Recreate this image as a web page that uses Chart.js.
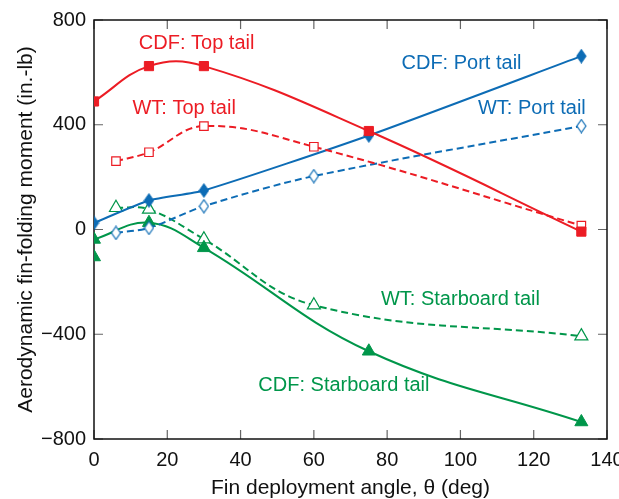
<!DOCTYPE html>
<html>
<head>
<meta charset="utf-8">
<script src="https://cdn.jsdelivr.net/npm/chart.js@4"></script>
<style>
  html, body { margin: 0; padding: 0; background: #fff; }
</style>
</head>
<body>
<canvas id="finChart" width="619" height="499"></canvas>
<script>
    // fin deployment angle (deg)
    let angleCdf = [0, 15, 30, 75, 133];
    let angleWt = [6, 15, 30, 60, 133];
    let xTicks = [0, 20, 40, 60, 80, 100, 120, 140];
    let yTicks = [-800, -400, 0, 400, 800];

    // fin-folding moment (in.-lb)
    let cdfTop = [489, 624, 624, 376, -8];
    let wtTop = [261, 295, 395, 316, 15];
    let cdfPort = [25, 111, 149, 359, 662];
    let wtPort = [-13, 6, 89, 204, 395];
    let cdfStar = [-38, 26, -70, -465, -735];
    let wtStar = [83, 77, -37, -289, -407];
    let cdfStarExtraX = [0];
    let cdfStarExtra = [-105];

    let red = "#ec1c24", blue = "#0d6cb5", green = "#00964a";
    let font = "'Liberation Sans', Arial, Helvetica, sans-serif";

    function diamond(fill, stroke) {
        let c = document.createElement("canvas");
        c.width = 11; c.height = 15;
        let g = c.getContext("2d");
        g.beginPath();
        g.moveTo(5.5, 1); g.lineTo(10, 7.5); g.lineTo(5.5, 14); g.lineTo(1, 7.5); g.closePath();
        g.fillStyle = fill; g.fill();
        g.lineWidth = 1.2; g.strokeStyle = stroke; g.stroke();
        return c;
    }

    let pts = (xs, ys) => xs.map((x, i) => ({ x, y: ys[i] }));

    function series(label, xs, ys, color, solid, style, size, tension) {
        return {
            label,
            data: pts(xs, ys),
            borderColor: color,
            borderWidth: 2,
            borderDash: solid ? [] : [7, 4],
            tension: tension,
            fill: false,
            pointStyle: style,
            pointRadius: size,
            pointBorderWidth: solid ? 1 : 1.2,
            pointBackgroundColor: solid ? color : "#fff",
            pointBorderColor: color
        };
    }

    // text labels placed in data units
    let notes = [
        { text: "CDF: Top tail", x: 28, y: 712, color: red },
        { text: "WT: Top tail", x: 24.6, y: 462, color: red },
        { text: "CDF: Port tail", x: 100.3, y: 635, color: blue },
        { text: "WT: Port tail", x: 119.5, y: 462, color: blue },
        { text: "WT: Starboard tail", x: 100, y: -268, color: green },
        { text: "CDF: Starboard tail", x: 68.2, y: -596, color: green }
    ];

    let frame = {
        id: "frame",
        beforeDatasetsDraw(chart) {
            let { ctx, chartArea: a, scales: { x, y } } = chart;
            ctx.save();
            ctx.strokeStyle = "#666";
            ctx.lineWidth = 1.2;
            ctx.beginPath();
            xTicks.forEach(v => {
                let px = x.getPixelForValue(v);
                ctx.moveTo(px, a.bottom); ctx.lineTo(px, a.bottom - 9);
                ctx.moveTo(px, a.top); ctx.lineTo(px, a.top + 9);
            });
            yTicks.forEach(v => {
                let py = y.getPixelForValue(v);
                ctx.moveTo(a.left, py); ctx.lineTo(a.left + 9, py);
                ctx.moveTo(a.right, py); ctx.lineTo(a.right - 9, py);
            });
            ctx.stroke();
            ctx.strokeStyle = "#111";
            ctx.lineWidth = 1.5;
            ctx.strokeRect(a.left, a.top, a.width, a.height);
            ctx.restore();
        },
        afterDatasetsDraw(chart) {
            let { ctx, scales: { x, y } } = chart;
            ctx.save();
            ctx.font = "20px " + font;
            ctx.textAlign = "center";
            ctx.textBaseline = "middle";
            notes.forEach(n => {
                ctx.fillStyle = n.color;
                ctx.fillText(n.text, x.getPixelForValue(n.x), y.getPixelForValue(n.y));
            });
            ctx.restore();
        }
    };

    new Chart(document.getElementById("finChart"), {
        type: "line",
        data: {
            datasets: [
                series("CDF: Top tail", angleCdf, cdfTop, red, true, "rect", 6.5, 0.4),
                series("WT: Top tail", angleWt, wtTop, red, false, "rect", 6, 0.4),
                series("CDF: Port tail", angleCdf, cdfPort, blue, true, diamond(blue, blue), 6, 0.2),
                series("WT: Port tail", angleWt, wtPort, blue, false, diamond("#fff", blue), 6, 0.3),
                series("CDF: Starboard tail", angleCdf, cdfStar, green, true, "triangle", 7.5, 0.4),
                series("WT: Starboard tail", angleWt, wtStar, green, false, "triangle", 7.5, 0.4),
                Object.assign(series("CDF: Starboard tail (extra)", cdfStarExtraX, cdfStarExtra, green, true, "triangle", 7.5, 0), { showLine: false })
            ]
        },
        options: {
            responsive: false,
            animation: false,
            devicePixelRatio: 1,
            layout: { padding: { top: 20, right: 12, left: 0, bottom: 0 } },
            plugins: { legend: { display: false }, tooltip: { enabled: false } },
            scales: {
                x: {
                    type: "linear",
                    min: 0,
                    max: 140,
                    afterBuildTicks: s => { s.ticks = xTicks.map(value => ({ value })); },
                    afterFit: s => { s.height = 60; s.paddingLeft = 0; s.paddingRight = 0; },
                    grid: { display: false, drawTicks: false },
                    border: { display: false },
                    ticks: { color: "#111", padding: 9, maxRotation: 0, font: { family: font, size: 20 } },
                    title: {
                        display: true,
                        text: "Fin deployment angle, \u03b8 (deg)",
                        color: "#111",
                        padding: { top: 0, bottom: 0 },
                        font: { family: font, size: 21, lineHeight: 1 }
                    }
                },
                y: {
                    min: -800,
                    max: 800,
                    afterBuildTicks: s => { s.ticks = yTicks.map(value => ({ value })); },
                    afterFit: s => { s.width = 94; s.paddingTop = 0; s.paddingBottom = 0; },
                    grid: { display: false, drawTicks: false },
                    border: { display: false },
                    ticks: {
                        color: "#111",
                        padding: 8,
                        font: { family: font, size: 20 },
                        callback: v => v < 0 ? "\u2212" + Math.abs(v) : String(v)
                    },
                    title: {
                        display: true,
                        text: "Aerodynamic fin-folding moment (in.-lb)",
                        color: "#111",
                        padding: { top: 16, bottom: 0 },
                        font: { family: font, size: 21, lineHeight: 1 }
                    }
                }
            }
        },
        plugins: [frame]
    });
</script>
</body>
</html>
